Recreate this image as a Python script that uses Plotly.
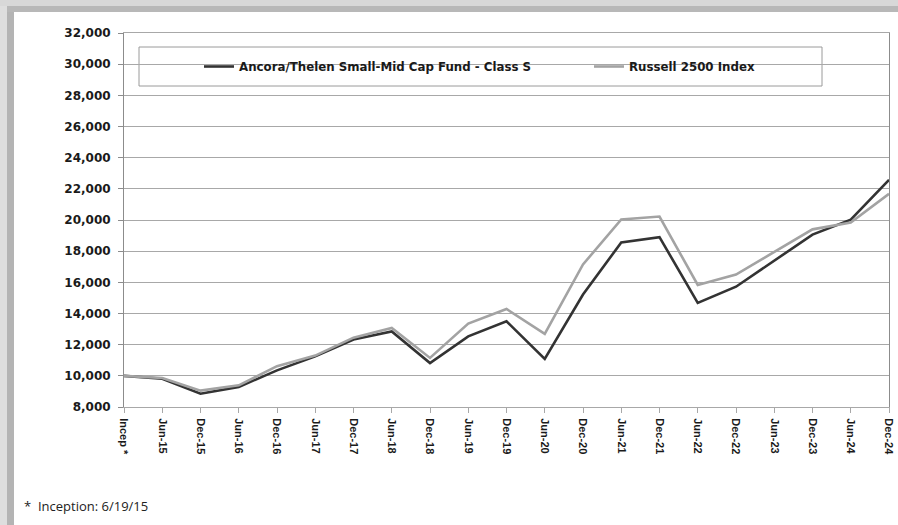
import plotly.graph_objects as go

categories = ["Incep *", "Jun-15", "Dec-15", "Jun-16", "Dec-16", "Jun-17", "Dec-17",
              "Jun-18", "Dec-18", "Jun-19", "Dec-19", "Jun-20", "Dec-20", "Jun-21",
              "Dec-21", "Jun-22", "Dec-22", "Jun-23", "Dec-23", "Jun-24", "Dec-24"]
fund = [10000, 9810, 8850, 9290, 10350, 11250, 12330, 12850, 10820, 12530, 13500,
        11080, 15220, 18560, 18900, 14680, 15720, 17380, 19060, 20020, 22580]
russell = [10000, 9860, 9050, 9390, 10620, 11300, 12450, 13070, 11150, 13350, 14290,
           12690, 17150, 20030, 20220, 15830, 16500, 17970, 19400, 19840, 21680]
fund_name = "Ancora/Thelen Small-Mid Cap Fund - Class S"
index_name = "Russell 2500 Index"
y_ticks = list(range(8000, 32001, 2000))

W, H = 898, 525
ML, MR, MT, MB = 124, 9, 33, 118
PW, PH = W - ML - MR, H - MT - MB


def px(x):
    return (x - ML) / PW


def py(y):
    return (H - MB - y) / PH


fig = go.Figure()
fig.add_trace(go.Scatter(x=categories, y=fund, mode="lines", name=fund_name, legend="legend",
                         line=dict(color="#333333", width=2.6)))
fig.add_trace(go.Scatter(x=categories, y=russell, mode="lines", name=index_name, legend="legend2",
                         line=dict(color="#a3a3a3", width=2.6)))

grid = "#a8a8a8"
shapes = [
    # legend frame
    dict(type="rect", xref="paper", yref="paper", x0=px(139), x1=px(822), y0=py(86), y1=py(47),
         fillcolor="white", line=dict(color="#9a9a9a", width=1), layer="between"),
    # outer frame shading (left / top)
    dict(type="rect", xref="paper", yref="paper", x0=px(0), x1=px(7), y0=py(H), y1=py(0),
         fillcolor="#dedede", line=dict(width=0), layer="below"),
    dict(type="rect", xref="paper", yref="paper", x0=px(7), x1=px(14), y0=py(H), y1=py(12),
         fillcolor="#b4b4b4", line=dict(width=0), layer="below"),
    dict(type="rect", xref="paper", yref="paper", x0=px(0), x1=px(W), y0=py(6), y1=py(0),
         fillcolor="#d8d8d8", line=dict(width=0), layer="below"),
    dict(type="rect", xref="paper", yref="paper", x0=px(7), x1=px(W), y0=py(12), y1=py(6),
         fillcolor="#b8b8b8", line=dict(width=0), layer="below"),
]

legend_font = dict(family="DejaVu Sans", size=11.8, color="#1a1a1a", weight="bold")

fig.update_layout(
    width=W, height=H,
    margin=dict(l=ML, r=MR, t=MT, b=MB, autoexpand=False),
    paper_bgcolor="white", plot_bgcolor="white",
    showlegend=True,
    legend=dict(orientation="h", x=px(199), xanchor="left", y=py(66.5), yanchor="middle",
                bgcolor="rgba(0,0,0,0)", borderwidth=0, font=legend_font),
    legend2=dict(orientation="h", x=px(589), xanchor="left", y=py(66.5), yanchor="middle",
                 bgcolor="rgba(0,0,0,0)", borderwidth=0, font=legend_font),
    shapes=shapes,
    annotations=[dict(text="*  Inception: 6/19/15", xref="paper", yref="paper",
                      x=px(22), y=py(506), xanchor="left", yanchor="middle", showarrow=False,
                      font=dict(family="Open Sans", size=13, color="#222222"))],
    xaxis=dict(type="category", range=[0, len(categories) - 1], showgrid=False, automargin=False,
               showline=True, linecolor=grid, linewidth=1, mirror=True,
               ticks="outside", ticklen=5, tickcolor=grid, tickangle=90, ticklabelstandoff=3,
               tickfont=dict(family="Liberation Sans", size=11, color="#1a1a1a", weight="bold")),
    yaxis=dict(range=[8000, 32000], tickvals=y_ticks, tickformat=",", automargin=False,
               showgrid=True, gridcolor=grid, gridwidth=1,
               showline=True, linecolor="#8c8c8c", linewidth=1, mirror=True,
               ticks="outside", ticklen=5, tickcolor="#8c8c8c", ticklabelstandoff=5,
               tickfont=dict(family="DejaVu Sans", size=12, color="#1a1a1a", weight="bold"),
               zeroline=False),
)

fig.write_html("out.html")
